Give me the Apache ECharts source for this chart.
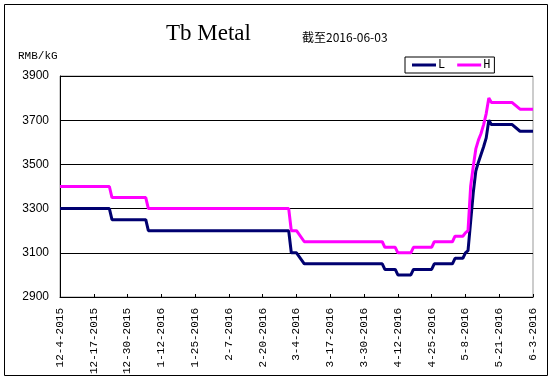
<!DOCTYPE html>
<html>
<head>
<meta charset="utf-8">
<script src="https://cdn.jsdelivr.net/npm/echarts@6/dist/echarts.min.js"></script>
<style>html,body{margin:0;padding:0;background:#fff;}#c{width:554px;height:381px;}</style>
</head>
<body>
<div id="c"></div>
<script>
// Data (change points)
const startDate = '2015-12-04';
const xTickLabels = ['12-4-2015','12-17-2015','12-30-2015','1-12-2016','1-25-2016','2-7-2016','2-20-2016','3-4-2016','3-17-2016','3-30-2016','4-12-2016','4-25-2016','5-8-2016','5-21-2016','6-3-2016'];
const yTicks = [2900, 3100, 3300, 3500, 3700, 3900];

const lDates = ['2015-12-04','2015-12-23','2015-12-24','2016-01-06','2016-01-07','2016-03-01','2016-03-02','2016-03-04','2016-03-07','2016-04-06','2016-04-07','2016-04-11','2016-04-12','2016-04-17','2016-04-18','2016-04-25','2016-04-26','2016-05-03','2016-05-04','2016-05-07','2016-05-08','2016-05-09','2016-05-10','2016-05-11','2016-05-12','2016-05-13','2016-05-14','2016-05-15','2016-05-16','2016-05-17','2016-05-18','2016-05-26','2016-05-29','2016-06-03'];
const lValues = [3300,3300,3250,3250,3200,3200,3100,3100,3050,3050,3025,3025,3000,3000,3025,3025,3050,3050,3075,3075,3100,3110,3240,3370,3470,3510,3545,3580,3620,3700,3680,3680,3650,3650];

const hDates = ['2015-12-04','2015-12-23','2015-12-24','2016-01-06','2016-01-07','2016-03-01','2016-03-02','2016-03-04','2016-03-07','2016-04-06','2016-04-07','2016-04-11','2016-04-12','2016-04-17','2016-04-18','2016-04-25','2016-04-26','2016-05-03','2016-05-04','2016-05-07','2016-05-08','2016-05-09','2016-05-10','2016-05-11','2016-05-12','2016-05-13','2016-05-14','2016-05-15','2016-05-16','2016-05-17','2016-05-18','2016-05-26','2016-05-29','2016-06-03'];
const hValues = [3400,3400,3350,3350,3300,3300,3200,3200,3150,3150,3125,3125,3100,3100,3125,3125,3150,3150,3175,3175,3190,3200,3400,3490,3570,3610,3640,3680,3730,3800,3780,3780,3750,3750];

const DAY = 86400000;
const t0 = Date.parse(startDate);
const toDay = d => Math.round((Date.parse(d) - t0) / DAY);
const lData = lDates.map((d, i) => [toDay(d), lValues[i]]);
const hData = hDates.map((d, i) => [toDay(d), hValues[i]]);
const maxDay = 13 * (xTickLabels.length - 1);

const chart = echarts.init(document.getElementById('c'), null, {renderer: 'canvas'});
chart.setOption({
  animation: false,
  backgroundColor: '#fff',
  title: [
    {text: 'Tb Metal', left: 166, top: 22, padding: 0,
     textStyle: {fontFamily: 'Liberation Serif', fontSize: 23, fontWeight: 'normal', color: '#000'}},
    {text: '截至2016-06-03', left: 302, top: 31, padding: 0,
     textStyle: {fontFamily: 'Noto Sans CJK SC', fontSize: 12, fontWeight: 'normal', color: '#000'}}
  ],
  legend: {
    data: ['L', 'H'],
    left: 405, top: 57,
    orient: 'horizontal',
    borderColor: '#000', borderWidth: 1, borderRadius: 0,
    padding: [2, 4, 2, 7],
    itemGap: 12, itemWidth: 24, itemHeight: 3,
    icon: 'rect',
    textStyle: {fontFamily: 'Liberation Mono', fontSize: 12, color: '#000', padding: [0, 0, 0, -3]}
  },
  grid: {left: 60, right: 21, top: 76, bottom: 84, show: true, borderColor: '#999', borderWidth: 1},
  xAxis: {
    type: 'value', min: 0, max: maxDay, interval: 13,
    axisLine: {show: true, lineStyle: {color: '#000', width: 1}},
    axisTick: {show: true, inside: true, length: 3, lineStyle: {color: '#000'}},
    splitLine: {show: false},
    axisLabel: {
      rotate: 90, margin: 11,
      fontFamily: 'Liberation Mono', fontSize: 11, color: '#000',
      formatter: v => xTickLabels[Math.round(v / 13)] || ''
    }
  },
  yAxis: {
    type: 'value', min: yTicks[0], max: yTicks[yTicks.length - 1], interval: 200,
    axisLine: {show: true, lineStyle: {color: '#000', width: 1}},
    axisTick: {show: false},
    splitLine: {show: true, lineStyle: {color: '#000', width: 1}},
    axisLabel: {margin: 11, fontFamily: 'Arial, Liberation Sans', fontSize: 12, color: '#000',
      formatter: v => String(v)}
  },
  graphic: [
    {type: 'text', left: 18, top: 51, style: {text: 'RMB/kG', font: '11px "Liberation Mono"', fill: '#000'}},
    {type: 'rect', shape: {x: 4.5, y: 4.5, width: 543, height: 371}, style: {fill: 'none', stroke: '#000', lineWidth: 1}, silent: true}
  ],
  series: [
    {name: 'L', type: 'line', data: lData, showSymbol: false, symbol: 'none',
     lineStyle: {color: '#000070', width: 3}, itemStyle: {color: '#000070'}},
    {name: 'H', type: 'line', data: hData, showSymbol: false, symbol: 'none',
     lineStyle: {color: '#ff00ff', width: 3}, itemStyle: {color: '#ff00ff'}}
  ]
});
</script>
</body>
</html>
